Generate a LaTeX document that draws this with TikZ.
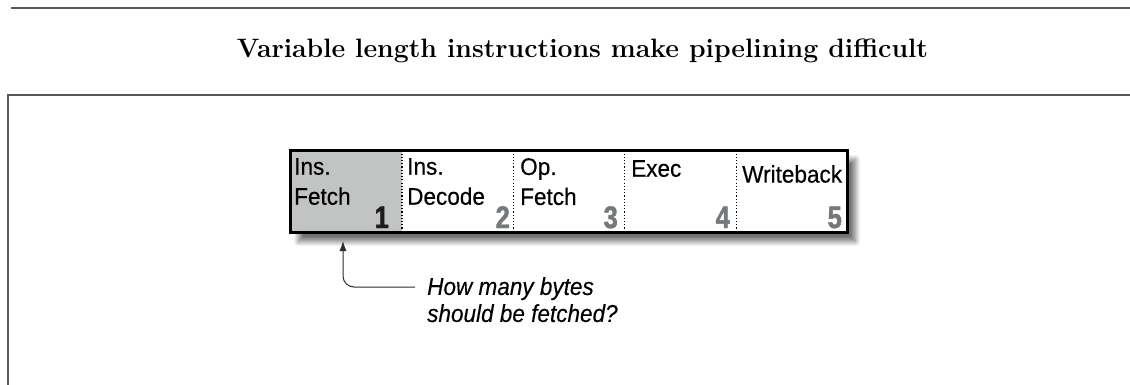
\documentclass[tikz,border=0pt]{standalone}
\usepackage{fontspec}
\newfontfamily\cellfont[FakeStretch=0.94,FakeBold=0.4]{Liberation Sans}
\newfontfamily\notefont[FakeStretch=0.92,FakeBold=0.3]{Liberation Sans Italic}
\newfontfamily\numfont[FakeStretch=0.82,FakeBold=1.6]{Liberation Sans Bold}
\usetikzlibrary{arrows.meta,shadows.blur}
\definecolor{rulegray}{RGB}{88,88,88}
\definecolor{fetchgray}{RGB}{194,196,195}
\definecolor{numgray}{RGB}{118,121,123}
\definecolor{numdark}{RGB}{28,28,28}
\definecolor{arrowgray}{RGB}{45,45,45}
\begin{document}
\begin{tikzpicture}[x=1pt,y=-1pt,
  cell/.style={minimum width=111.4pt,minimum height=82pt,inner sep=0pt,outer sep=0pt},
  celltext/.style={anchor=north west,inner sep=0pt,align=left,text=black,
    font=\cellfont\fontsize{24}{30}\selectfont},
  num/.style={anchor=base east,inner sep=0pt,text=numgray,
    font=\numfont\fontsize{31}{31}\selectfont},
  rule/.style={draw=rulegray,line width=1.8pt},
  divider/.style={draw=black,line width=1.2pt,dotted},
  note/.style={anchor=north west,inner sep=0pt,align=left,
    font=\notefont\fontsize{24.5}{27}\selectfont},
  connector/.style={draw=arrowgray,line width=1pt,rounded corners=11pt,
    -{Latex[length=10pt,width=7pt]}}
]
\useasboundingbox (0,0) rectangle (1130,385);

% page rules
\coordinate (ruleL) at (11,8);
\coordinate (ruleR) at (1130,8);
\draw[rule] (ruleL) -- (ruleR);
\coordinate (frameBL) at (8,386);
\coordinate (frameTL) at (8,95);
\coordinate (frameTR) at (1131,95);
\draw[rule] (frameBL) -- (frameTL) -- (frameTR);

% title
\node[anchor=base,inner sep=0pt,font=\bfseries\fontsize{26.6}{30}\selectfont]
  (title) at (582.5,58) {Variable length instructions make pipelining difficult};

% cells
\foreach \i/\xc in {1/346.2,2/457.6,3/569.0,4/680.4,5/791.8}{
  \node[cell] (cell\i) at (\xc,191.5) {};
}
\path[blur shadow={shadow xshift=8pt,shadow yshift=-9pt,shadow blur steps=10,
  shadow blur radius=5pt,shadow opacity=55},fill=white]
  (cell1.north west) rectangle (cell5.south east);
\fill[fetchgray] (cell1.north west) rectangle (cell1.south east);
\foreach \i in {1,2,3,4}{
  \draw[divider] (cell\i.north east) -- (cell\i.south east);
}
\draw[line width=3pt,draw=black] (cell1.north west) rectangle (cell5.south east);

\node[celltext] (t1) at (294,158) {Ins.\\Fetch};
\node[celltext] (t2) at (407,158) {Ins.\\Decode};
\node[celltext] (t3) at (520,158) {Op.\\Fetch};
\node[celltext] (t4) at (631,160) {Exec};
\node[celltext] (t5) at (742,165) {Writeback};

\node[num,text=numdark] (n1) at (389,228) {1};
\node[num] (n2) at (510,228) {2};
\node[num] (n3) at (618,228) {3};
\node[num] (n4) at (730,228) {4};
\node[num] (n5) at (842,228) {5};

% note and connector
\node[note] (q) at (427,277) {How many bytes\\should be fetched?};
\coordinate (qend) at (415,287);
\coordinate (tip) at (343,241);
\draw[connector] (qend) -| (tip);
\end{tikzpicture}
\end{document}
